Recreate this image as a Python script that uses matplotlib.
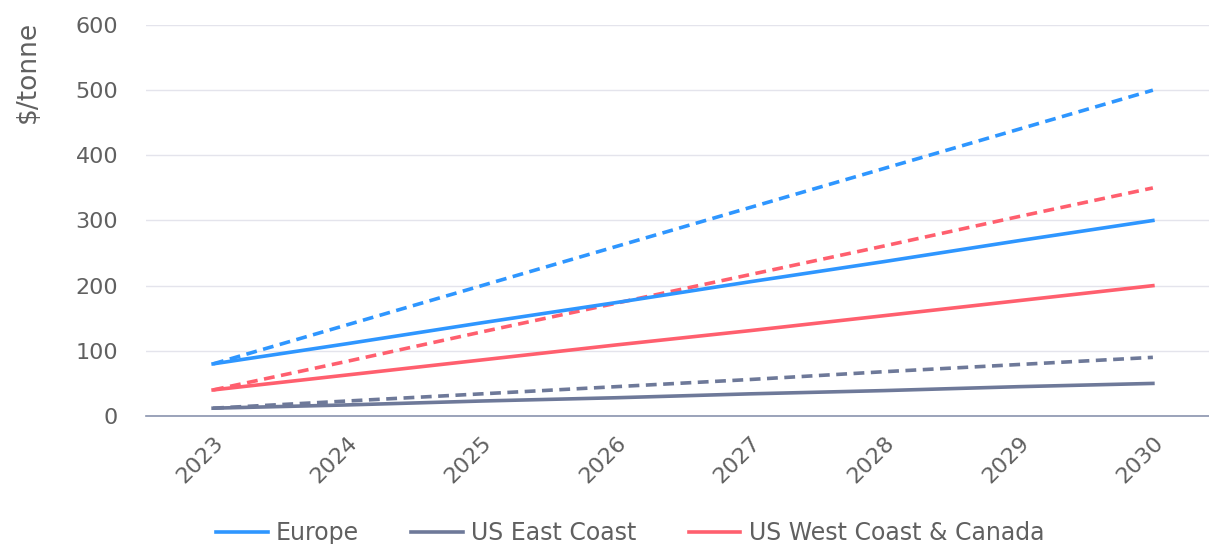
import matplotlib
matplotlib.use("Agg")
import matplotlib.pyplot as plt
from matplotlib.lines import Line2D

years = ["2023", "2024", "2025", "2026", "2027", "2028", "2029", "2030"]

europe = [80, 111, 143, 174, 206, 237, 269, 300]
europe_high = [80, 140, 200, 260, 320, 380, 440, 500]
us_east = [12, 17, 23, 28, 34, 39, 45, 50]
us_east_high = [12, 23, 34, 45, 56, 68, 79, 90]
us_west = [40, 63, 86, 109, 131, 154, 177, 200]
us_west_high = [40, 84, 129, 173, 217, 261, 306, 350]

c_eu = "#2E96FF"
c_east = "#6E7999"
c_west = "#FF5F6E"
txt = "#606060"

plt.rcParams['font.family'] = ['DejaVu Sans']

fig = plt.figure(figsize=(12.09, 5.44), dpi=100)
ax = fig.add_axes([146/1209, 128/544, (1220-146)/1209, 391/544])

x = list(range(len(years)))
lw = 2.6
dash = (3, 1.8)

ax.plot(x, europe_high, color=c_eu, lw=lw, ls=(0, dash))
ax.plot(x, us_west_high, color=c_west, lw=lw, ls=(0, dash))
ax.plot(x, us_east_high, color=c_east, lw=lw, ls=(0, dash))
ax.plot(x, europe, color=c_eu, lw=lw)
ax.plot(x, us_west, color=c_west, lw=lw)
ax.plot(x, us_east, color=c_east, lw=lw)

ax.set_xlim(-0.5, 7.5)
ax.set_ylim(0, 600)
ax.set_yticks(range(0, 601, 100))
ax.set_xticks(x)
ax.set_xticklabels(years, rotation=45, ha='right', rotation_mode='anchor')
ax.tick_params(axis='both', length=0, labelsize=16, colors=txt)
ax.tick_params(axis='y', pad=20)
ax.tick_params(axis='x', pad=12)
ax.grid(axis='y', color="#E4E4EC", lw=1)
ax.set_axisbelow(True)
for s in ['top', 'right', 'left']:
    ax.spines[s].set_visible(False)
ax.spines['bottom'].set_color("#8A94AE")
ax.spines['bottom'].set_linewidth(1.2)

fig.text(28/1209, 1 - 72/544, "$/tonne", rotation=90, ha='center', va='center',
         fontsize=19, color=txt)

handles = [Line2D([], [], color=c, lw=lw) for c in (c_eu, c_east, c_west)]
fig.legend(handles, ["Europe", "US East Coast", "US West Coast & Canada"],
           loc='center', bbox_to_anchor=(630/1209, 1 - 533/544), ncol=3,
           frameon=False, fontsize=17, labelcolor=txt, handlelength=2.2,
           handletextpad=0.35, columnspacing=2.2)

fig.savefig("out.png", dpi=100)
